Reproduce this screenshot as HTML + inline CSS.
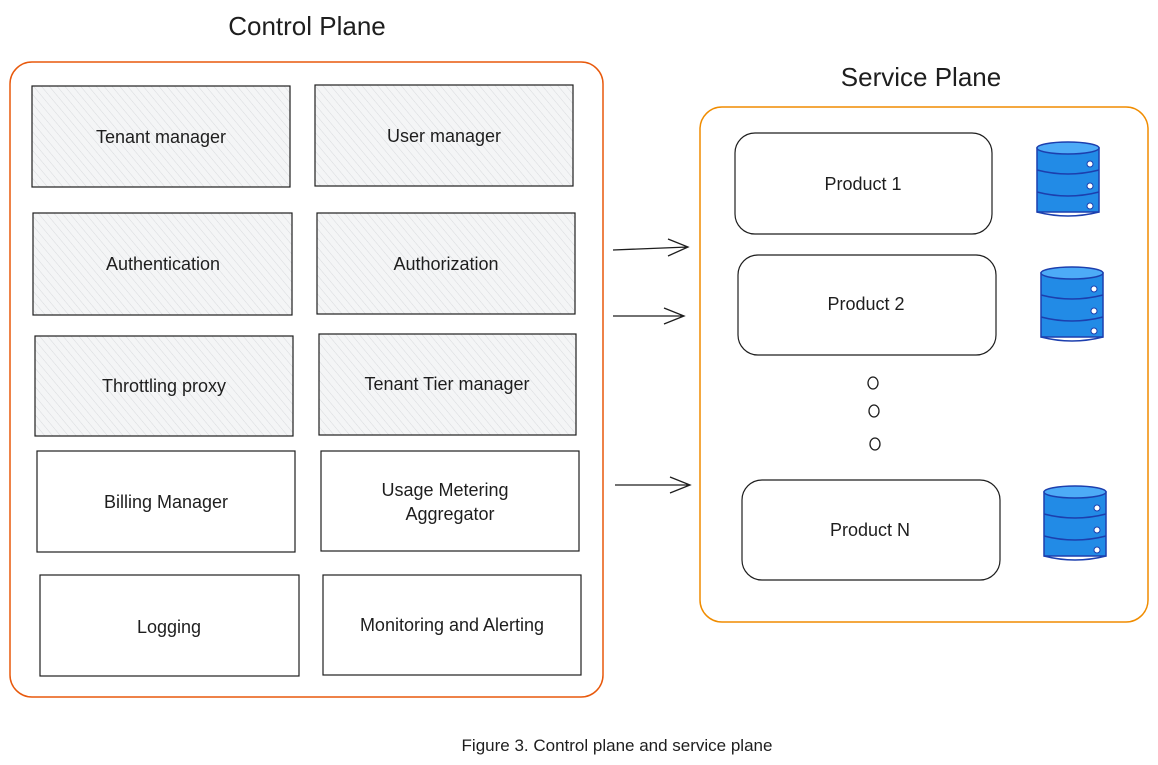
<!DOCTYPE html>
<html><head><meta charset="utf-8"><style>
html,body{margin:0;padding:0;background:#fff;}
svg{display:block;}
text{font-family:"Liberation Sans",sans-serif;fill:#1e1e1e;}
</style></head><body>
<svg width="1158" height="765" viewBox="0 0 1158 765" xmlns="http://www.w3.org/2000/svg">
<defs>
<pattern id="h" width="6" height="6" patternUnits="userSpaceOnUse" patternTransform="rotate(-40)">
<rect width="6" height="6" fill="#f4f5f6"/>
<line x1="0" y1="0" x2="0" y2="6" stroke="#d8dadd" stroke-width="1"/>
</pattern>
<g id="db">
<rect x="0" y="8" width="62" height="64" fill="#228be6" stroke="#1c3fae" stroke-width="1.5"/>
<ellipse cx="31" cy="8" rx="31" ry="6" fill="#4dabf7" stroke="#1c3fae" stroke-width="1.5"/>
<path d="M0 30 Q31 38 62 30 M0 52 Q31 60 62 52 M0 72 Q31 80 62 72" fill="none" stroke="#1c3fae" stroke-width="1.5"/>
<circle cx="53" cy="24" r="3" fill="#fff" stroke="#1c3fae"/>
<circle cx="53" cy="46" r="3" fill="#fff" stroke="#1c3fae"/>
<circle cx="53" cy="66" r="3" fill="#fff" stroke="#1c3fae"/>
</g>
</defs>
<text x="307" y="35" font-size="26" text-anchor="middle">Control Plane</text>
<rect x="10" y="62" width="593" height="635" rx="22" fill="none" stroke="#e8590c" stroke-width="1.5"/>
<g stroke="#1e1e1e" stroke-width="1.2">
<rect x="32" y="86" width="258" height="101" fill="url(#h)"/>
<rect x="315" y="85" width="258" height="101" fill="url(#h)"/>
<rect x="33" y="213" width="259" height="102" fill="url(#h)"/>
<rect x="317" y="213" width="258" height="101" fill="url(#h)"/>
<rect x="35" y="336" width="258" height="100" fill="url(#h)"/>
<rect x="319" y="334" width="257" height="101" fill="url(#h)"/>
<rect x="37" y="451" width="258" height="101" fill="#fff"/>
<rect x="321" y="451" width="258" height="100" fill="#fff"/>
<rect x="40" y="575" width="259" height="101" fill="#fff"/>
<rect x="323" y="575" width="258" height="100" fill="#fff"/>
</g>
<g font-size="18" text-anchor="middle">
<text x="161" y="143">Tenant manager</text>
<text x="444" y="142">User manager</text>
<text x="163" y="270">Authentication</text>
<text x="446" y="270">Authorization</text>
<text x="164" y="392">Throttling proxy</text>
<text x="447" y="390">Tenant Tier manager</text>
<text x="166" y="508">Billing Manager</text>
<text x="445" y="496">Usage Metering</text>
<text x="450" y="520">Aggregator</text>
<text x="169" y="633">Logging</text>
<text x="452" y="631">Monitoring and Alerting</text>
</g>
<text x="921" y="86" font-size="26" text-anchor="middle">Service Plane</text>
<rect x="700" y="107" width="448" height="515" rx="22" fill="none" stroke="#f08c00" stroke-width="1.5"/>
<g fill="#fff" stroke="#1e1e1e" stroke-width="1.2">
<rect x="735" y="133" width="257" height="101" rx="20"/>
<rect x="738" y="255" width="258" height="100" rx="20"/>
<rect x="742" y="480" width="258" height="100" rx="20"/>
</g>
<g font-size="18" text-anchor="middle">
<text x="863" y="190">Product 1</text>
<text x="866" y="310">Product 2</text>
<text x="870" y="536">Product N</text>
</g>
<use href="#db" x="1037" y="140"/>
<use href="#db" x="1041" y="265"/>
<use href="#db" x="1044" y="484"/>
<g fill="none" stroke="#1e1e1e" stroke-width="1.3">
<ellipse cx="873" cy="383" rx="5" ry="6"/>
<ellipse cx="874" cy="411" rx="5" ry="6"/>
<ellipse cx="875" cy="444" rx="5" ry="6"/>
<path d="M613 250 L688 247 M668 239 L688 247 L668 256"/>
<path d="M613 316 L684 316 M664 308 L684 316 L664 324"/>
<path d="M615 485 L690 485 M670 477 L690 485 L670 493"/>
</g>
<text x="617" y="751" font-size="17" text-anchor="middle">Figure 3. Control plane and service plane</text>
</svg>
</body></html>
